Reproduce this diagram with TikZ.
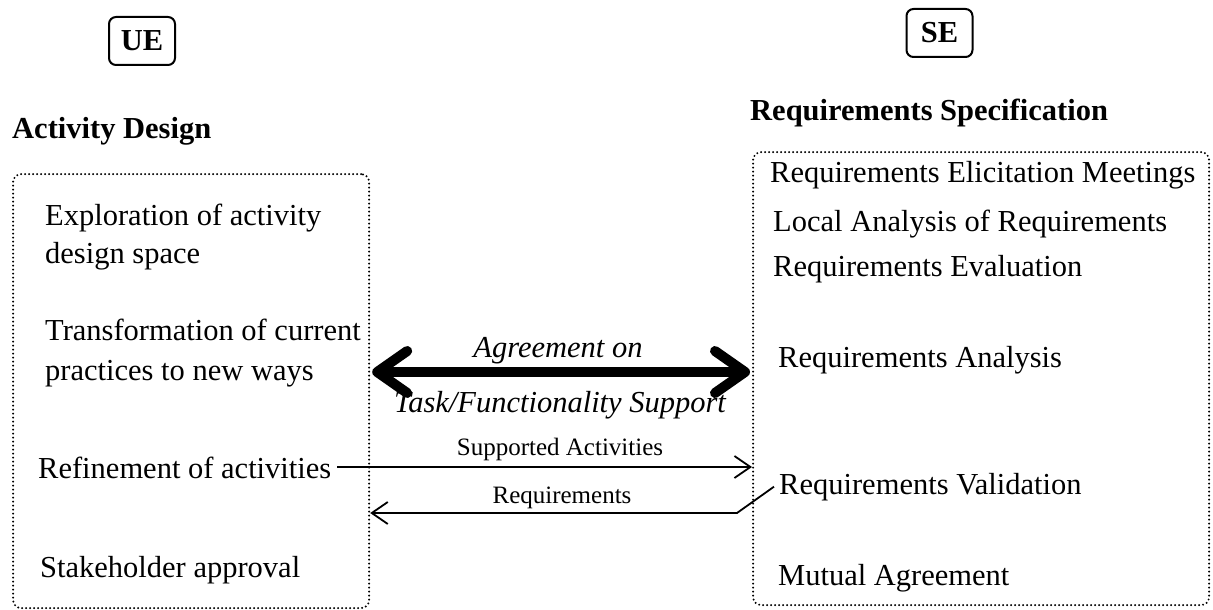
\documentclass[tikz,border=0pt]{standalone}
\usepackage{fontspec}
\setmainfont{Liberation Serif}
\usetikzlibrary{arrows.meta,calc}
\begin{document}
\begin{tikzpicture}[x=1pt,y=-1pt,
  txt/.style={anchor=base west,inner sep=0pt,font=\fontsize{30.5}{36}\selectfont},
  heading/.style={anchor=base west,inner sep=0pt,font=\fontsize{30.5}{36}\selectfont\bfseries},
  tagbox/.style={draw,line width=2pt,rounded corners=7pt,inner sep=0pt,
    minimum width=66pt,minimum height=48pt,font=\fontsize{30.5}{36}\selectfont\bfseries},
  groupbox/.style={draw,line width=2.2pt,dash pattern=on 0pt off 4pt,line cap=round,
    rounded corners=8pt,inner sep=0pt,anchor=north west},
  ital/.style={anchor=base,inner sep=0pt,font=\fontsize{30.5}{36}\selectfont\itshape},
  small/.style={anchor=base,inner sep=0pt,font=\fontsize{25}{30}\selectfont},
  flow/.style={-{Straight Barb[length=16pt,width=22pt]},line width=1.8pt},
  bigflow/.style={{Straight Barb[round,length=30pt,width=42pt]}-{Straight Barb[round,length=30pt,width=42pt]},line width=10pt},
]
\useasboundingbox (0,0) rectangle (1213,610);

% discipline tags
\node[tagbox] (ue) at (142,41) {UE};
\node[tagbox] (se) at (939.5,33) {SE};

% headings
\node[heading] (adhead) at (12,138) {Activity Design};
\node[heading] (rshead) at (750,120) {Requirements Specification};

% grouping frames
\node[groupbox,minimum width=356pt,minimum height=434pt] (lbox) at (12,173) {};
\node[groupbox,minimum width=456pt,minimum height=453pt] (rbox) at (752,151) {};

% activity design steps
\node[txt] (explore1) at (45,225) {Exploration of activity};
\node[txt] (explore2) at (45,263) {design space};
\node[txt] (transf1) at (45,340) {Transformation of current};
\node[txt] (transf2) at (45,380) {practices to new ways};
\node[txt] (refine) at (38,478) {Refinement of activities};
\node[txt] (approve) at (40,577) {Stakeholder approval};

% requirements specification steps
\node[txt] (elicit) at (770,182) {Requirements Elicitation Meetings};
\node[txt] (local) at (773,231) {Local Analysis of Requirements};
\node[txt] (evalu) at (773,276) {Requirements Evaluation};
\node[txt] (analysis) at (778,367) {Requirements Analysis};
\node[txt] (valid) at (779,494) {Requirements Validation};
\node[txt] (mutual) at (778,585) {Mutual Agreement};

% agreement between the two sides
\coordinate (mid) at (560,372);
\draw[bigflow] ([xshift=2pt]mid -| lbox.east) -- ([xshift=-2pt]mid -| rbox.west);
\node[ital] (agree1) at (558,357) {Agreement on};
\node[ital] (agree2) at (560,412) {Task/Functionality Support};

% supported activities flow
\coordinate (supp) at (0,467);
\draw[flow] (supp -| refine.east) ++(6,0) -- (supp -| rbox.west);
\node[small] (supplbl) at (560,455) {Supported Activities};

% requirements flow back
\coordinate (bend) at (737,513);
\draw[flow] ([xshift=-5pt]valid.west) -- (bend) -- (bend -| lbox.east);
\node[small] (reqlbl) at (562,503) {Requirements};
\end{tikzpicture}
\end{document}
